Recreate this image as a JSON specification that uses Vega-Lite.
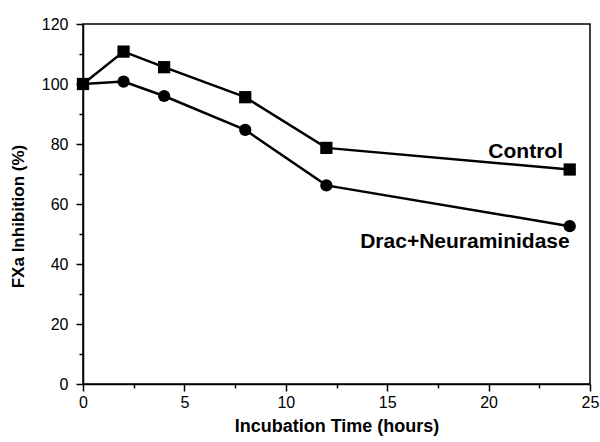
{
  "$schema": "https://vega.github.io/schema/vega-lite/v6.json",
  "width": 507,
  "height": 360,
  "autosize": {"type": "none"},
  "padding": {"left": 83, "top": 24, "right": 10, "bottom": 58},
  "background": "white",
  "config": {
    "view": {"stroke": "black", "strokeWidth": 1.5},
    "font": "Liberation Sans",
    "axis": {
      "domainColor": "black", "domainWidth": 1.5, "tickColor": "black", "tickWidth": 1.5,
      "labelColor": "black", "titleColor": "black", "labelFont": "Liberation Sans",
      "titleFont": "Liberation Sans", "labelFontSize": 16, "titleFontSize": 17, "titleFontWeight": "bold",
      "grid": false
    }
  },
  "datasets": {
    "series": [
      {"time": 0, "value": 100, "series": "Control"},
      {"time": 2, "value": 110.8, "series": "Control"},
      {"time": 4, "value": 105.6, "series": "Control"},
      {"time": 8, "value": 95.6, "series": "Control"},
      {"time": 12, "value": 78.7, "series": "Control"},
      {"time": 24, "value": 71.5, "series": "Control"},
      {"time": 0, "value": 100, "series": "Drac+Neuraminidase"},
      {"time": 2, "value": 100.8, "series": "Drac+Neuraminidase"},
      {"time": 4, "value": 96, "series": "Drac+Neuraminidase"},
      {"time": 8, "value": 84.7, "series": "Drac+Neuraminidase"},
      {"time": 12, "value": 66.2, "series": "Drac+Neuraminidase"},
      {"time": 24, "value": 52.6, "series": "Drac+Neuraminidase"}
    ],
    "labels": [
      {"time": 23.67, "value": 75.3, "label": "Control"},
      {"time": 24.0, "value": 45.3, "label": "Drac+Neuraminidase"}
    ],
    "minor": [
      {"time": 2.5, "value": 10}
    ]
  },
  "layer": [
    {
      "layer": [
        {
          "data": {"name": "series"},
          "mark": {"type": "line", "color": "black", "strokeWidth": 2.5},
          "encoding": {
            "x": {"field": "time", "type": "quantitative", "scale": {"domain": [0, 25], "nice": false},
                  "axis": {"orient": "bottom", "values": [0, 5, 10, 15, 20, 25], "tickSize": 7, "labelPadding": 3, "title": "Incubation Time (hours)", "titlePadding": 7, "titleFontSize": 18, "labelFlush": false}},
            "y": {"field": "value", "type": "quantitative", "scale": {"domain": [0, 120], "nice": false},
                  "axis": {"orient": "left", "values": [0, 20, 40, 60, 80, 100, 120], "tickSize": 7, "labelPadding": 8, "title": "FXa Inhibition (%)", "titlePadding": 14, "titleY": 192, "labelFlush": false}},
            "detail": {"field": "series"}
          }
        },
        {
          "data": {"name": "series"},
          "mark": {"type": "point", "filled": true, "color": "black", "opacity": 1, "size": 150},
          "encoding": {
            "x": {"field": "time", "type": "quantitative"},
            "y": {"field": "value", "type": "quantitative"},
            "shape": {"field": "series", "type": "nominal", "scale": {"domain": ["Control", "Drac+Neuraminidase"], "range": ["square", "circle"]}, "legend": null}
          }
        },
        {
          "data": {"name": "labels"},
          "mark": {"type": "text", "align": "right", "baseline": "alphabetic", "fontSize": 21, "fontWeight": "bold", "font": "Liberation Sans", "color": "black"},
          "encoding": {
            "x": {"field": "time", "type": "quantitative"},
            "y": {"field": "value", "type": "quantitative"},
            "text": {"field": "label"}
          }
        }
      ]
    },
    {
      "data": {"name": "minor"},
      "mark": {"type": "point", "opacity": 0},
      "encoding": {
        "x": {"field": "time", "type": "quantitative", "scale": {"domain": [0, 25], "nice": false},
              "axis": {"orient": "bottom", "values": [2.5, 7.5, 12.5, 17.5, 22.5], "tickSize": 4, "labels": false, "domain": false, "title": null}},
        "y": {"field": "value", "type": "quantitative", "scale": {"domain": [0, 120], "nice": false},
              "axis": {"orient": "left", "values": [10, 30, 50, 70, 90, 110], "tickSize": 4, "labels": false, "domain": false, "title": null}}
      }
    }
  ],
  "resolve": {"axis": {"x": "independent", "y": "independent"}}
}
